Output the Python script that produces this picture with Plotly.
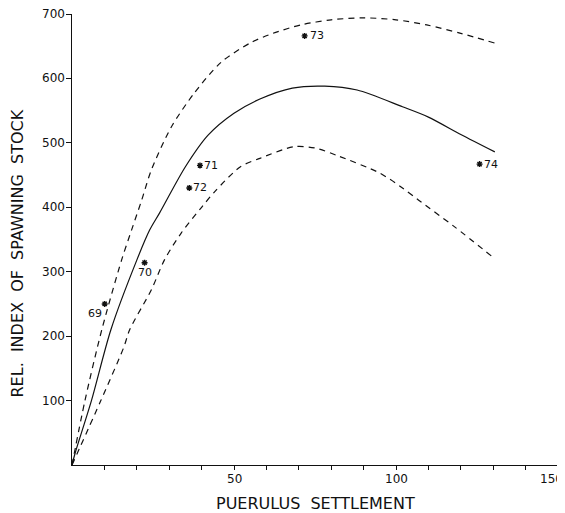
import plotly.graph_objects as go

# Fitted curve (solid) and confidence limits (dashed)
mid_x = [0, 1, 6, 12, 20, 24, 27, 35, 42, 50, 58, 68, 78, 88, 102, 110, 120, 130.5]
mid_y = [0, 19, 100, 210, 318, 365, 391, 463, 512, 546, 568, 585, 588, 582, 556, 540, 513, 486]

up_x = [0, 4, 9.2, 15.3, 18.4, 21.5, 24.5, 30.7, 37.7, 46, 55, 62, 70.6, 80, 90, 100, 109.5, 120, 130.4]
up_y = [0, 100, 210, 318, 365, 411, 458, 525, 577, 625, 655, 670, 683, 691, 694, 691, 683, 670, 655]

lo_x = [0, 8.9, 16, 17.8, 24.5, 28.5, 33.7, 40, 44, 52, 58, 68.5, 75, 82, 95, 102, 107, 118, 129.8]
lo_y = [0, 100, 183, 210, 272, 318, 360, 400, 424, 463, 476, 494, 492, 480, 453, 430, 411, 370, 323]

# Observed years
obs_year = ["69", "70", "71", "72", "73", "74"]
obs_x = [10.1, 22.4, 39.5, 36.2, 71.8, 125.8]
obs_y = [250, 314, 465, 430, 666, 467]

x_ticks = list(range(10, 151, 10))
x_labels = [50, 100, 150]
y_ticks = [100, 200, 300, 400, 500, 600, 700]

x_title = "PUERULUS  SETTLEMENT"
y_title = "REL.  INDEX  OF  SPAWNING  STOCK"

fig = go.Figure()
line_col = "#111111"
fig.add_trace(go.Scatter(x=up_x, y=up_y, mode="lines", line=dict(color=line_col, width=1.2, dash="6px,5px", shape="spline", smoothing=0.8), hoverinfo="skip"))
fig.add_trace(go.Scatter(x=lo_x, y=lo_y, mode="lines", line=dict(color=line_col, width=1.2, dash="6px,5px", shape="spline", smoothing=0.8), hoverinfo="skip"))
fig.add_trace(go.Scatter(x=mid_x, y=mid_y, mode="lines", line=dict(color=line_col, width=1.2, shape="spline", smoothing=0.8), hoverinfo="skip"))
fig.add_trace(go.Scatter(x=obs_x, y=obs_y, mode="markers",
                         marker=dict(symbol="asterisk-open", size=5, color=line_col, line=dict(color=line_col, width=1.4)),
                         hoverinfo="skip"))

offsets = {"69": (-10, -10), "70": (0, -10), "71": (11, 0), "72": (11, 0), "73": (12, 0), "74": (11, 0)}
for yr, xv, yv in zip(obs_year, obs_x, obs_y):
    dx, dy = offsets[yr]
    fig.add_annotation(x=xv, y=yv, text=yr, showarrow=False, xshift=dx, yshift=dy,
                       font=dict(family="DejaVu Sans", size=11, color=line_col))

# tick labels drawn as annotations so the edge labels (700, 150) are kept
for v in x_labels:
    last = v == x_labels[-1]
    fig.add_annotation(x=v, y=0, xref="x", yref="y", text=str(v), showarrow=False,
                       xanchor="right" if last else "center", xshift=7 if last else 0,
                       yanchor="top", yshift=-5, font=dict(family="DejaVu Sans", size=12, color=line_col))
for v in y_ticks:
    fig.add_annotation(x=0, y=v, xref="x", yref="y", text=str(v), showarrow=False,
                       xanchor="right", yanchor="middle", xshift=-5,
                       font=dict(family="DejaVu Sans", size=12, color=line_col))

fig.add_annotation(x=0.5, y=0, xref="paper", yref="paper", text=x_title, showarrow=False,
                   xanchor="center", yanchor="middle", yshift=-38,
                   font=dict(family="DejaVu Sans", size=16, color=line_col))
fig.add_annotation(x=0, y=0.5, xref="paper", yref="paper", text=y_title, showarrow=False, textangle=-90,
                   xanchor="center", yanchor="middle", xshift=-55, yshift=-14,
                   font=dict(family="DejaVu Sans", size=16, color=line_col))

# the page body adds an 8px offset, so the figure is sized to end at the window edge
fig.update_layout(
    width=557, height=505,
    margin=dict(l=64, r=7, t=6, b=48),
    paper_bgcolor="white", plot_bgcolor="white",
    showlegend=False,
    font=dict(family="DejaVu Sans", color=line_col),
)
fig.update_xaxes(range=[0, 150], showgrid=False, zeroline=False, showline=True, linecolor=line_col, linewidth=1.3,
                 tickmode="array", tickvals=x_ticks, showticklabels=False, ticks="outside", ticklen=4,
                 tickcolor=line_col, automargin=False)
fig.update_yaxes(range=[0, 700], showgrid=False, zeroline=False, showline=True, linecolor=line_col, linewidth=1.3,
                 tickmode="array", tickvals=y_ticks, showticklabels=False, ticks="outside", ticklen=5,
                 tickcolor=line_col, automargin=False)

fig.write_html("out.html")
